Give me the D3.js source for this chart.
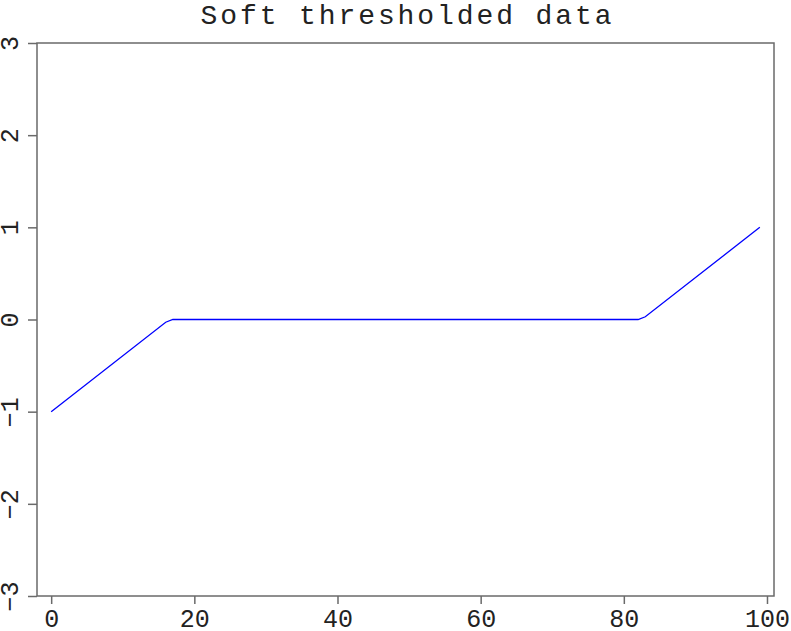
<!DOCTYPE html>
<html>
<head>
<meta charset="utf-8">
<script src="https://cdn.jsdelivr.net/npm/d3@7"></script>
<style>
  body { margin: 0; background: #fff; }
  text { font-family: "Liberation Mono", "DejaVu Sans Mono", monospace; fill: #222; }
</style>
</head>
<body>
<svg id="area"></svg>
<script>
// data (breakpoints of the soft thresholded ramp)
var sampleIdx = [0, 16, 17, 82, 83, 99];
var sampleVal = [-1, -0.03, 0, 0, 0.03, 1];
var xTicks = [0, 20, 40, 60, 80, 100];
var yTicks = [-3, -2, -1, 0, 1, 2, 3];
var title = "Soft thresholded data";

var width = 791, height = 631,
    margin = {left: 37, right: 17, top: 43, bottom: 35};

var svg = d3.select("#area").attr("width", width).attr("height", height);

var x = d3.scaleLinear().domain([-1.98, 100.98]).range([margin.left, width - margin.right]);
var y = d3.scaleLinear().domain([-3, 3]).range([height - margin.bottom, margin.top]);

// frame
svg.append("rect")
    .attr("x", margin.left).attr("y", margin.top)
    .attr("width", width - margin.left - margin.right)
    .attr("height", height - margin.top - margin.bottom)
    .attr("fill", "none").attr("stroke", "#6a6a6a").attr("stroke-width", 1.5);

// x axis
var xAxis = svg.append("g")
    .attr("transform", "translate(0," + (height - margin.bottom) + ")")
    .call(d3.axisBottom(x).tickValues(xTicks).tickSize(8).tickFormat(d3.format("d")));
xAxis.select(".domain").remove();
xAxis.selectAll("line").attr("stroke", "#6a6a6a").attr("stroke-width", 1.5);
xAxis.selectAll("text")
    .attr("y", 31).attr("dy", null)
    .attr("fill", "#222")
    .style("font-size", "25px").style("font-family", "Liberation Mono");

// y axis, rotated labels
var yAxis = svg.append("g")
    .attr("transform", "translate(" + margin.left + ",0)")
    .call(d3.axisLeft(y).tickValues(yTicks).tickSize(9).tickFormat(function(d) { return d < 0 ? "\u2212" + (-d) : d; }));
yAxis.select(".domain").remove();
yAxis.selectAll("line").attr("stroke", "#6a6a6a").attr("stroke-width", 1.5);
yAxis.selectAll("text")
    .attr("x", null).attr("dy", null)
    .attr("text-anchor", "middle")
    .attr("transform", "translate(-19,0) rotate(-90)")
    .attr("fill", "#222")
    .style("font-size", "25px").style("font-family", "Liberation Mono");

// title
svg.append("text")
    .attr("x", 406).attr("y", 24)
    .attr("text-anchor", "middle")
    .attr("textLength", 411)
    .style("font-size", "28px")
    .text(title);

// line
var line = d3.line()
    .x(function(d, i) { return x(sampleIdx[i]); })
    .y(function(d) { return y(d); });

svg.append("path")
    .datum(sampleVal)
    .attr("fill", "none")
    .attr("stroke", "#0000ff")
    .attr("stroke-width", 1.3)
    .attr("d", line);
</script>
</body>
</html>
